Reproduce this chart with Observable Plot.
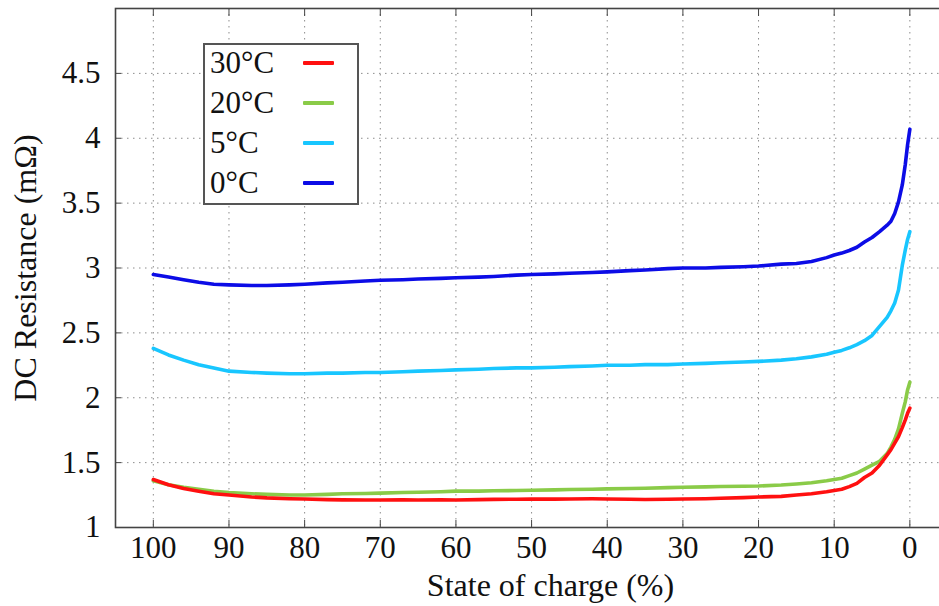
<!DOCTYPE html>
<html>
<head>
<meta charset="utf-8">
<script src="https://cdn.jsdelivr.net/npm/d3@7"></script>
<script src="https://cdn.jsdelivr.net/npm/@observablehq/plot@0.6"></script>
<style>
  html, body { margin: 0; padding: 0; background: #fff; overflow: hidden; }
  #chart { position: relative; width: 939px; height: 606px; overflow: hidden; }
  #chart svg { position: absolute; left: 0; top: 0; max-width: none !important; width: 985px !important; height: 606px !important; }
  .legend {
    position: absolute; left: 203px; top: 43px; width: 152px; height: 158px;
    border: 2px solid #555; background: #fff;
    font-family: "Liberation Serif", "Times New Roman", serif; font-size: 31px; color: #111;
  }
  .legend .row { position: absolute; left: 5px; height: 40px; display: flex; align-items: center; }
  .legend .swatch { position: absolute; left: 98px; width: 31px; height: 4px; border-radius: 1px; }
</style>
</head>
<body>
<div id="chart"></div>
<script>
// State of charge (%) at which the resistance was sampled
const soc = [100, 98, 96, 94, 92, 90, 87, 85, 82, 80, 77, 75, 72, 70, 67, 65, 62, 60, 57, 55,
  52, 50, 47, 45, 42, 40, 37, 35, 32, 30, 27, 25, 22, 20, 17, 15, 13, 11, 10, 9,
  8, 7, 6, 5, 4, 3, 2.5, 2, 1.5, 1, 0.6, 0.3, 0];

// DC resistance (mΩ) per temperature
const r30 = [1.37, 1.33, 1.30, 1.28, 1.26, 1.25, 1.235, 1.228, 1.222, 1.22, 1.215, 1.213, 1.212, 1.212, 1.214, 1.212, 1.213, 1.212, 1.215, 1.217,
  1.218, 1.22, 1.219, 1.22, 1.221, 1.22, 1.218, 1.216, 1.218, 1.22, 1.222, 1.225, 1.23, 1.235, 1.24, 1.25, 1.26, 1.275, 1.285, 1.295,
  1.315, 1.34, 1.385, 1.42, 1.48, 1.56, 1.60, 1.65, 1.70, 1.77, 1.83, 1.88, 1.92];
const r20 = [1.36, 1.33, 1.31, 1.295, 1.28, 1.27, 1.26, 1.255, 1.25, 1.25, 1.255, 1.26, 1.262, 1.265, 1.27, 1.272, 1.276, 1.28, 1.28, 1.283,
  1.285, 1.287, 1.29, 1.293, 1.295, 1.298, 1.30, 1.303, 1.307, 1.31, 1.313, 1.316, 1.318, 1.32, 1.327, 1.335, 1.345, 1.36, 1.37, 1.38,
  1.40, 1.42, 1.45, 1.48, 1.51, 1.57, 1.62, 1.68, 1.76, 1.88, 1.97, 2.06, 2.12];
const r5 = [2.38, 2.33, 2.29, 2.255, 2.23, 2.205, 2.195, 2.19, 2.185, 2.185, 2.19, 2.19, 2.195, 2.195, 2.20, 2.205, 2.21, 2.215, 2.22, 2.225,
  2.23, 2.23, 2.235, 2.24, 2.245, 2.25, 2.25, 2.255, 2.255, 2.26, 2.265, 2.27, 2.275, 2.28, 2.29, 2.30, 2.315, 2.335, 2.35, 2.365,
  2.385, 2.41, 2.44, 2.48, 2.55, 2.62, 2.67, 2.73, 2.83, 3.02, 3.14, 3.22, 3.28];
const r0 = [2.95, 2.93, 2.91, 2.89, 2.875, 2.87, 2.865, 2.865, 2.87, 2.875, 2.885, 2.89, 2.90, 2.905, 2.91, 2.915, 2.92, 2.925, 2.93, 2.935,
  2.945, 2.95, 2.955, 2.96, 2.965, 2.97, 2.98, 2.985, 2.995, 3.0, 3.0, 3.005, 3.01, 3.015, 3.03, 3.035, 3.05, 3.08, 3.10, 3.115,
  3.135, 3.16, 3.20, 3.235, 3.28, 3.33, 3.36, 3.42, 3.51, 3.64, 3.80, 3.95, 4.07];

const seriesNames = ["30°C", "20°C", "5°C", "0°C"];
const seriesColors = ["#ff1010", "#8acb48", "#18c6ff", "#0c0ce6"];
const seriesValues = [r30, r20, r5, r0];

const socTicks = [100, 90, 80, 70, 60, 50, 40, 30, 20, 10, 0];
const resTicks = [1, 1.5, 2, 2.5, 3, 3.5, 4, 4.5];
const xTitle = "State of charge (%)";
const yTitle = "DC Resistance (mΩ)";

// long-format rows for the line mark
const rows = seriesNames.flatMap((name, i) =>
  soc.map((s, j) => ({soc: s, r: seriesValues[i][j], series: name})));

const font = "Liberation Serif";
const gridStyle = {stroke: "#8c8c8c", strokeOpacity: 1, strokeWidth: 1, strokeDasharray: "1.5,4.5"};
const textStyle = {fontFamily: font, fill: "#111"};

const chart = Plot.plot({
  width: 985,
  height: 606,
  marginLeft: 115,
  marginRight: 0,
  marginTop: 8,
  marginBottom: 79,
  style: {fontFamily: font, fontSize: "30px", color: "#111", background: "transparent", maxWidth: "none"},
  x: {domain: [105, -10], label: null},
  y: {domain: [1, 5], label: null},
  marks: [
    Plot.gridX(socTicks, gridStyle),
    Plot.gridY(resTicks, gridStyle),
    // coldest first, so the 30°C trace ends up on top
    ...[3, 2, 1, 0].map(i =>
      Plot.line(rows.filter(d => d.series === seriesNames[i]), {
        x: "soc", y: "r", stroke: seriesColors[i], strokeWidth: 3.6, curve: "linear"
      })),
    Plot.axisX(socTicks, {anchor: "bottom", tickSize: -7, tickPadding: 15, stroke: "#444", tickFormat: d => String(d), fontSize: 31, ...textStyle}),
    Plot.axisX(socTicks, {anchor: "top", tickSize: -7, stroke: "#444", tickFormat: () => ""}),
    Plot.axisY(resTicks, {anchor: "left", tickSize: -6, tickPadding: 21, stroke: "#444", tickFormat: d => String(d), fontSize: 31, ...textStyle}),
    Plot.frame({stroke: "#444", strokeWidth: 1.6}),
    Plot.text([xTitle], {text: d => d, frameAnchor: "bottom", dy: 58, textAnchor: "middle", lineAnchor: "middle", fontSize: 32, ...textStyle}),
    Plot.text([yTitle], {text: d => d, frameAnchor: "left", dx: -90, rotate: -90, textAnchor: "middle", lineAnchor: "middle", fontSize: 32, ...textStyle})
  ]
});

const host = document.getElementById("chart");
host.appendChild(chart);

// legend box inside the plot area
const legend = document.createElement("div");
legend.className = "legend";
seriesNames.forEach((name, i) => {
  const row = document.createElement("div");
  row.className = "row";
  row.style.top = (i * 40 - 2) + "px";
  row.textContent = name;
  legend.appendChild(row);
  const sw = document.createElement("div");
  sw.className = "swatch";
  sw.style.background = seriesColors[i];
  sw.style.top = (i * 40 - 2 + 18) + "px";
  legend.appendChild(sw);
});
host.appendChild(legend);
</script>
</body>
</html>
